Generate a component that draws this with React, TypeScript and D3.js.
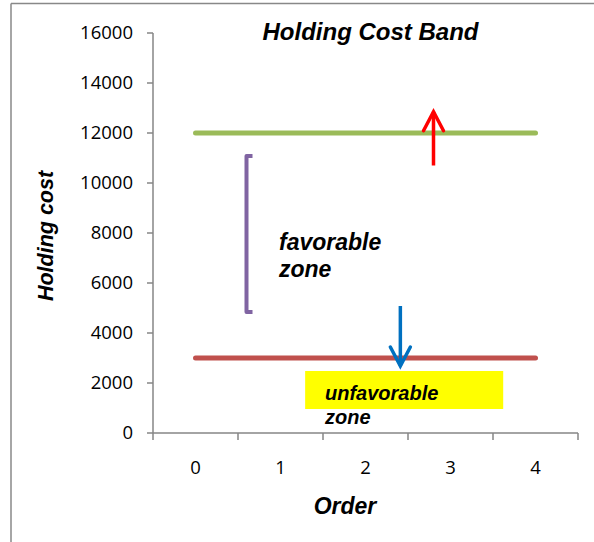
import React from "react";
import * as d3 from "d3";

const categories = ["0", "1", "2", "3", "4"];
const upperBand = [12000, 12000, 12000, 12000, 12000];
const lowerBand = [3000, 3000, 3000, 3000, 3000];
const yTicks = [0, 2000, 4000, 6000, 8000, 10000, 12000, 14000, 16000];

// annotations in data units (x = category index position, y = holding cost)
const redArrow = { x: 2.8, y0: 10700, y1: 12850 };
const blueArrow = { x: 2.41, y0: 5080, y1: 2680 };
const bracket = { x: 0.6, y0: 4840, y1: 11080 };
const yellowBox = { x0: 1.29, x1: 3.62, y0: 960, y1: 2480 };

const W = 594;
const H = 542;
const plot = { left: 153, right: 578, top: 33, bottom: 433 };

export default function App() {
  const xBand = d3.scaleBand<string>().domain(categories).range([plot.left, plot.right]).padding(0);
  const xLin = d3.scaleLinear().domain([-0.5, categories.length - 0.5]).range([plot.left, plot.right]);
  const y = d3.scaleLinear().domain([0, 16000]).range([plot.bottom, plot.top]);
  const line = d3
    .line<number>()
    .x((_, i) => xLin(i))
    .y((d) => y(d));

  const axisColor = "#868686";
  const tickFont = "'Open Sans', sans-serif";
  const boldFont = "'Liberation Sans', Arial, sans-serif";

  const bw = xBand.bandwidth();
  const xTickPos = categories.map((c) => xBand(c)!).concat([plot.right]);

  const rx = xLin(redArrow.x);
  const bx = xLin(blueArrow.x);
  const brx = xLin(bracket.x);

  return (
    <svg width={W} height={H} style={{ position: "absolute", left: 0, top: 0 }}>
      <rect x={0} y={0} width={W} height={H} fill="#fff" />
      {/* outer border (top & left visible) */}
      <line x1={11} y1={3.5} x2={W} y2={3.5} stroke="#888" strokeWidth={1.5} />
      <line x1={11} y1={3.5} x2={11} y2={H} stroke="#888" strokeWidth={1.5} />

      {/* title */}
      <text x={370.5} y={40} textAnchor="middle" fontFamily={boldFont} fontWeight="bold" fontStyle="italic" fontSize={24}>
        Holding Cost Band
      </text>

      {/* y axis */}
      <line x1={plot.left} y1={plot.top} x2={plot.left} y2={plot.bottom} stroke={axisColor} strokeWidth={1.5} />
      {yTicks.map((t) => (
        <g key={t}>
          <line x1={plot.left - 6} x2={plot.left} y1={y(t)} y2={y(t)} stroke={axisColor} strokeWidth={1.5} />
          <text x={133} y={y(t)} dy="0.35em" textAnchor="end" fontFamily={tickFont} fontSize={18.5} fill="#000">
            {t}
          </text>
        </g>
      ))}

      {/* x axis */}
      <line x1={plot.left} y1={plot.bottom} x2={plot.right} y2={plot.bottom} stroke={axisColor} strokeWidth={1.5} />
      {xTickPos.map((p, i) => (
        <line key={i} x1={p} x2={p} y1={plot.bottom} y2={plot.bottom + 7} stroke={axisColor} strokeWidth={1.5} />
      ))}
      {categories.map((c) => (
        <text key={c} x={xBand(c)! + bw / 2} y={474} textAnchor="middle" fontFamily={tickFont} fontSize={18.5} fill="#000">
          {c}
        </text>
      ))}

      {/* axis titles */}
      <text
        transform={`translate(53, 236) rotate(-90)`}
        textAnchor="middle"
        fontFamily={boldFont}
        fontWeight="bold"
        fontStyle="italic"
        fontSize={21.5}
      >
        Holding cost
      </text>
      <text x={345} y={514} textAnchor="middle" fontFamily={boldFont} fontWeight="bold" fontStyle="italic" fontSize={23}>
        Order
      </text>

      {/* yellow box */}
      <rect
        x={xLin(yellowBox.x0)}
        y={y(yellowBox.y1)}
        width={xLin(yellowBox.x1) - xLin(yellowBox.x0)}
        height={y(yellowBox.y0) - y(yellowBox.y1)}
        fill="#FFFF00"
      />

      {/* band lines */}
      <path d={line(upperBand)!} fill="none" stroke="#9BBB59" strokeWidth={5} strokeLinecap="round" />
      <path d={line(lowerBand)!} fill="none" stroke="#C0504D" strokeWidth={5} strokeLinecap="round" />

      {/* red arrow */}
      <g stroke="#FF0000" strokeWidth={3.5} fill="none">
        <line x1={rx} x2={rx} y1={y(redArrow.y0)} y2={y(redArrow.y1)} />
        <polyline points={`${rx - 10},${y(redArrow.y1) + 19} ${rx},${y(redArrow.y1)} ${rx + 10},${y(redArrow.y1) + 19}`} strokeLinecap="round" strokeLinejoin="miter" />
      </g>

      {/* blue arrow */}
      <g stroke="#0070C0" strokeWidth={3.5} fill="none">
        <line x1={bx} x2={bx} y1={y(blueArrow.y0)} y2={y(blueArrow.y1)} />
        <polyline points={`${bx - 10},${y(blueArrow.y1) - 19} ${bx},${y(blueArrow.y1)} ${bx + 10},${y(blueArrow.y1) - 19}`} strokeLinecap="round" />
      </g>

      {/* purple bracket */}
      <polyline
        points={`${brx + 6},${y(bracket.y1)} ${brx},${y(bracket.y1)} ${brx},${y(bracket.y0)} ${brx + 6},${y(bracket.y0)}`}
        fill="none"
        stroke="#8064A2"
        strokeWidth={4}
        strokeLinejoin="round"
      />

      {/* zone texts */}
      <text fontFamily={boldFont} fontWeight="bold" fontStyle="italic" fontSize={23} fill="#000">
        <tspan x={279} y={250}>favorable</tspan>
        <tspan x={279} y={277}>zone</tspan>
      </text>
      <text fontFamily={boldFont} fontWeight="bold" fontStyle="italic" fontSize={20} fill="#000">
        <tspan x={325} y={400}>unfavorable</tspan>
        <tspan x={325} y={424}>zone</tspan>
      </text>
    </svg>
  );
}
